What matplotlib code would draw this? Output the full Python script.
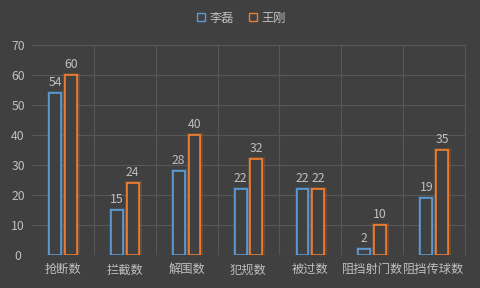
import matplotlib
matplotlib.use("Agg")
import matplotlib.pyplot as plt
import matplotlib.patheffects as pe
from matplotlib.lines import Line2D
import numpy as np

plt.rcParams['font.family'] = ['Noto Sans CJK SC', 'DejaVu Sans']

categories = ["抢断数", "拦截数", "解围数", "犯规数", "被过数", "阻挡射门数", "阻挡传球数"]
series_names = ["李磊", "王刚"]
li_lei = [54, 15, 28, 22, 22, 2, 19]
wang_gang = [60, 24, 40, 32, 22, 10, 35]
yticks = [0, 10, 20, 30, 40, 50, 60, 70]

bg = "#404040"
grid_c = "#575757"
text_c = "#bfbfbf"
colors = ["#5B9BD5", "#ED7D31"]
fs = 8.8

fig = plt.figure(figsize=(4.81, 2.88), dpi=100, facecolor=bg)
ax = fig.add_axes([32/481, 33/288, 433/481, 210/288])
ax.set_facecolor(bg)

x = np.arange(len(categories))
w = 0.19
offs = [-0.127, 0.127]
for vals, col, off in zip([li_lei, wang_gang], colors, offs):
    bars = ax.bar(x + off, vals, width=w, facecolor=bg, edgecolor=col, linewidth=1.2, zorder=3)
    for b in bars:
        b.set_path_effects([pe.withStroke(linewidth=3.5, foreground=col, alpha=0.22), pe.Normal()])
    for xi, v in zip(x + off, vals):
        ax.annotate(str(v), (xi, v), xytext=(0, 3), textcoords="offset points",
                    ha="center", va="bottom", color=text_c, fontsize=fs)

ax.set_xlim(-0.5, len(categories) - 0.5)
ax.set_ylim(0, 70)
ax.set_yticks(yticks)
ax.set_xticks(x)
ax.set_xticklabels(categories)
ax.tick_params(axis="both", length=0, colors=text_c, labelsize=fs)
ax.tick_params(axis="y", pad=10)
ax.tick_params(axis="x", pad=6)
for lbl in ax.get_yticklabels():
    lbl.set_horizontalalignment("center")
ax.set_axisbelow(True)
ax.grid(axis="y", color=grid_c, linewidth=0.8)
for b in np.arange(0.5, len(categories) - 0.5, 1.0):
    ax.axvline(b, color=grid_c, linewidth=0.8, zorder=0)
for s in ["left", "bottom"]:
    ax.spines[s].set_visible(False)
for s in ["top", "right"]:
    ax.spines[s].set_color(grid_c)
    ax.spines[s].set_linewidth(0.8)

handles = [Line2D([], [], marker="s", linestyle="none", markersize=6, markerfacecolor=bg,
                  markeredgecolor=c, markeredgewidth=1.0) for c in colors]
fig.legend(handles, series_names, loc="center", bbox_to_anchor=(0.5, 1 - 18/288), ncol=2,
           frameon=False, labelcolor=text_c, fontsize=fs, handletextpad=0.2,
           columnspacing=1.0, handlelength=1.0)

fig.savefig("out.png", dpi=100, facecolor=bg)
